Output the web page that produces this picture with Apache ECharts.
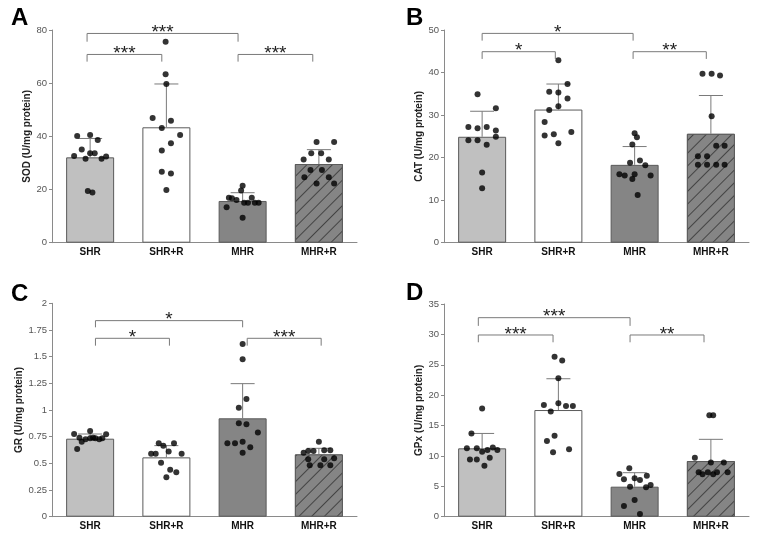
<!DOCTYPE html>
<html><head><meta charset="utf-8">
<script src="https://cdn.jsdelivr.net/npm/echarts@6/dist/echarts.min.js"></script>
<style>html,body{margin:0;padding:0;background:#fff}#c{width:761px;height:543px}</style>
</head><body><div id="c"></div>
<script>
// ---------- data ----------
const categories = ['SHR', 'SHR+R', 'MHR', 'MHR+R'];

// Panel A: SOD
const sodMean = [32.1, 43.4, 15.7, 29.6];
const sodSD = [7.1, 16.3, 3.1, 5.4];
const sodPoints = [
  [40.1, 40.5, 35.1, 38.6, 32.6, 31.6, 33.6, 33.6, 31.6, 32.4, 19.4, 18.9],
  [75.6, 63.4, 59.7, 46.9, 45.9, 43.1, 40.5, 37.4, 34.7, 26.7, 26.0, 19.8],
  [21.4, 19.6, 16.9, 16.7, 16.1, 16.9, 15.0, 15.0, 15.0, 15.0, 13.3, 9.4],
  [37.9, 37.9, 33.6, 33.6, 31.3, 31.3, 27.3, 27.3, 24.6, 24.6, 22.3, 22.3]
];
const sodJitter = [
  [-0.17, 0.00, -0.11, 0.10, -0.21, -0.06, 0.00, 0.06, 0.15, 0.21, -0.03, 0.03],
  [-0.01, -0.01, 0.00, -0.18, 0.06, -0.06, 0.18, 0.06, -0.06, -0.06, 0.06, 0.00],
  [0.00, -0.02, -0.18, -0.14, -0.08, 0.12, 0.02, 0.07, 0.16, 0.21, -0.21, 0.00],
  [-0.03, 0.20, -0.10, 0.03, -0.20, 0.13, -0.11, 0.04, -0.19, 0.13, -0.03, 0.20]
];
const sodBrackets = [[-0.04, 1.94, 78.7, 75.6], [-0.04, 0.94, 70.8, 68.1], [1.94, 2.92, 70.8, 68.1]];
const sodStars = ['***', '***', '***'];

// Panel B: CAT
const catMean = [24.9, 31.3, 18.3, 25.6];
const catSD = [6.0, 6.0, 4.3, 9.0];
const catPoints = [
  [34.9, 31.6, 27.2, 26.9, 27.2, 26.4, 24.1, 24.1, 24.9, 23.0, 16.5, 12.8],
  [42.9, 35.5, 35.3, 37.3, 33.9, 32.1, 31.2, 28.4, 25.2, 25.5, 26.0, 23.4],
  [25.7, 24.8, 23.1, 18.8, 19.3, 18.2, 16.1, 15.8, 16.1, 15.8, 15.0, 11.2],
  [39.7, 39.7, 39.3, 29.7, 20.3, 20.3, 22.8, 22.8, 18.3, 18.3, 18.3, 18.3]
];
const catJitter = [
  [-0.06, 0.18, -0.18, -0.06, 0.06, 0.18, -0.18, -0.06, 0.18, 0.06, 0.00, 0.00],
  [0.00, -0.12, 0.00, 0.12, 0.12, 0.00, -0.12, -0.18, -0.18, -0.06, 0.17, 0.00],
  [0.00, 0.03, -0.03, -0.06, 0.07, 0.14, -0.20, -0.13, 0.00, 0.21, -0.03, 0.04],
  [-0.11, 0.01, 0.12, 0.01, -0.17, -0.05, 0.07, 0.18, -0.17, -0.05, 0.07, 0.18]
];
const catBrackets = [[0, 1.98, 49.2, 47.5], [0, 0.96, 44.9, 43.2], [1.98, 2.94, 44.9, 43.2]];
const catStars = ['*', '*', '**'];

// Panel C: GR
const grMean = [0.731, 0.556, 0.922, 0.584];
const grSD = [0.044, 0.110, 0.325, 0.057];
const grPoints = [
  [0.775, 0.803, 0.772, 0.741, 0.726, 0.735, 0.741, 0.735, 0.726, 0.735, 0.703, 0.635],
  [0.688, 0.666, 0.688, 0.610, 0.590, 0.590, 0.590, 0.506, 0.440, 0.416, 0.369],
  [1.619, 1.475, 1.103, 1.022, 0.875, 0.866, 0.788, 0.688, 0.688, 0.703, 0.650, 0.600],
  [0.703, 0.600, 0.616, 0.616, 0.622, 0.622, 0.538, 0.538, 0.547, 0.482, 0.482, 0.482]
];
const grJitter = [
  [-0.21, 0.00, 0.21, -0.14, -0.06, 0.00, 0.04, 0.07, 0.12, 0.16, -0.11, -0.17],
  [-0.10, -0.04, 0.10, 0.03, -0.20, -0.14, 0.20, -0.07, 0.05, 0.13, 0.00],
  [0.00, 0.00, 0.05, -0.05, -0.05, 0.05, 0.20, -0.20, -0.10, 0.00, 0.10, 0.00],
  [0.00, -0.20, -0.14, -0.07, 0.07, 0.15, -0.14, 0.07, 0.20, -0.12, 0.02, 0.15]
];
const grBrackets = [[0.07, 2.0, 1.8375, 1.775], [0.07, 1.04, 1.672, 1.603], [2.06, 3.03, 1.672, 1.603]];
const grStars = ['*', '*', '***'];

// Panel D: GPx
const gpxMean = [11.25, 17.55, 4.94, 9.16];
const gpxSD = [2.45, 5.15, 2.30, 3.57];
const gpxPoints = [
  [17.8, 13.7, 11.25, 11.25, 11.4, 10.97, 10.7, 10.97, 9.43, 9.43, 9.7, 8.4],
  [26.3, 25.7, 22.8, 18.65, 18.4, 18.2, 18.2, 17.3, 13.3, 12.45, 10.6, 11.08],
  [7.96, 7.03, 6.75, 6.15, 6.32, 6.04, 4.94, 4.84, 5.22, 2.75, 1.76, 0.44],
  [16.7, 16.7, 9.7, 8.9, 8.9, 7.3, 6.97, 7.3, 6.97, 7.3, 7.3]
];
const gpxJitter = [
  [0.00, -0.14, -0.20, -0.07, 0.14, 0.20, 0.00, 0.07, -0.16, -0.07, 0.10, 0.03],
  [-0.05, 0.05, 0.00, 0.00, -0.19, 0.10, 0.19, -0.10, -0.05, -0.15, -0.07, 0.14],
  [-0.07, -0.20, 0.16, -0.14, 0.00, 0.07, -0.06, 0.15, 0.21, 0.00, -0.14, 0.07],
  [-0.02, 0.03, -0.21, 0.00, 0.17, -0.16, -0.11, -0.04, 0.03, 0.08, 0.22]
];
const gpxBrackets = [[-0.05, 1.94, 32.75, 31.4], [-0.05, 0.93, 29.9, 28.7], [1.94, 2.91, 29.9, 28.7]];
const gpxStars = ['***', '***', '**'];

const panels = [
  {letter: 'A', name: 'SOD (U/mg protein)', mean: sodMean, sd: sodSD, pts: sodPoints, jit: sodJitter, br: sodBrackets, stars: sodStars, min: 0, max: 80, interval: 20},
  {letter: 'B', name: 'CAT (U/mg protein)', mean: catMean, sd: catSD, pts: catPoints, jit: catJitter, br: catBrackets, stars: catStars, min: 0, max: 50, interval: 10},
  {letter: 'C', name: 'GR (U/mg protein)', mean: grMean, sd: grSD, pts: grPoints, jit: grJitter, br: grBrackets, stars: grStars, min: 0, max: 2, interval: 0.25},
  {letter: 'D', name: 'GPx (U/mg protein)', mean: gpxMean, sd: gpxSD, pts: gpxPoints, jit: gpxJitter, br: gpxBrackets, stars: gpxStars, min: 0, max: 35, interval: 5}
];

// ---------- layout / style ----------
const FONT = 'Liberation Sans, Arial, sans-serif';
const grids = [
  {left: 52, width: 305, top: 30, height: 212.7},
  {left: 444, width: 305, top: 30, height: 212.7},
  {left: 52, width: 305, top: 303.3, height: 213.4},
  {left: 444, width: 305, top: 304, height: 212.7}
];
const letterPos = [[11, 6], [406, 6], [11, 282], [406, 281]];
const barColors = ['#c0c0c0', '#ffffff', '#858585', '#858585'];
const hatch = {symbol: 'rect', symbolSize: 1, dashArrayX: [1, 0], dashArrayY: [1, 8], rotation: -Math.PI / 4, color: 'rgba(40,40,40,0.7)', backgroundColor: '#858585'};

const option = {
  animation: false,
  backgroundColor: '#fff',
  grid: grids.map(g => Object.assign({containLabel: false}, g)),
  xAxis: [], yAxis: [], series: [],
  graphic: panels.map((p, i) => ({type: 'text', left: letterPos[i][0], top: letterPos[i][1],
    style: {text: p.letter, font: 'bold 24px ' + FONT, fill: '#000'}}))
};

panels.forEach((p, i) => {
  const xc = option.xAxis.length;
  option.xAxis.push({type: 'category', gridIndex: i, data: categories,
    axisLine: {onZero: false, lineStyle: {color: '#8a8a8a', width: 1}}, axisTick: {show: false},
    axisLabel: {color: '#111', fontWeight: 'bold', fontSize: 10, fontFamily: FONT, margin: 5, interval: 0}});
  const xv = option.xAxis.length;
  option.xAxis.push({type: 'value', gridIndex: i, min: -0.5, max: 3.5, show: false});
  const yi = option.yAxis.length;
  option.yAxis.push({type: 'value', gridIndex: i, min: p.min, max: p.max, interval: p.interval,
    name: p.name, nameLocation: 'middle', nameGap: 19,
    nameTextStyle: {color: '#222', fontWeight: 'bold', fontSize: 10, fontFamily: FONT},
    axisLine: {show: true, onZero: false, lineStyle: {color: '#8a8a8a'}},
    axisTick: {show: true, length: 3, lineStyle: {color: '#8a8a8a'}},
    splitLine: {show: false},
    axisLabel: {color: '#555', fontSize: 9.5, fontFamily: FONT, margin: 5}});

  // bars
  option.series.push({type: 'bar', xAxisIndex: xc, yAxisIndex: yi, barWidth: 48,
    data: p.mean.map((v, k) => ({value: v, itemStyle: Object.assign({color: barColors[k], borderColor: '#5a5a5a', borderWidth: 1},
      k === 3 ? {decal: hatch} : {})})),
    z: 2});

  // error bars (upper only)
  option.series.push({type: 'custom', xAxisIndex: xv, yAxisIndex: yi, z: 3,
    data: p.mean.map((m, k) => [k, m, m + p.sd[k]]),
    encode: {x: 0, y: [1, 2]},
    renderItem: (params, api) => {
      const b = api.coord([api.value(0), api.value(1)]);
      const t = api.coord([api.value(0), api.value(2)]);
      const half = 12;
      return {type: 'group', children: [
        {type: 'line', shape: {x1: b[0], y1: b[1], x2: t[0], y2: t[1]}, style: {stroke: '#7a7a7a', lineWidth: 1}},
        {type: 'line', shape: {x1: t[0] - half, y1: t[1], x2: t[0] + half, y2: t[1]}, style: {stroke: '#7a7a7a', lineWidth: 1}}
      ]};
    }});

  // points
  const scatterData = [];
  p.pts.forEach((arr, g) => arr.forEach((v, k) => scatterData.push([g + p.jit[g][k], v])));
  option.series.push({type: 'scatter', xAxisIndex: xv, yAxisIndex: yi, symbolSize: 6, z: 5,
    itemStyle: {color: '#000'}, data: scatterData});

  // significance brackets
  option.series.push({type: 'custom', xAxisIndex: xv, yAxisIndex: yi, z: 4,
    data: p.br, encode: {x: [0, 1], y: [2, 3]},
    renderItem: (params, api) => {
      const x1 = api.value(0), x2 = api.value(1), yl = api.value(2), yd = api.value(3);
      const a = api.coord([x1, yd]), b = api.coord([x1, yl]), c = api.coord([x2, yl]), d = api.coord([x2, yd]);
      return {type: 'group', children: [
        {type: 'polyline', shape: {points: [a, b, c, d]}, style: {stroke: '#7a7a7a', lineWidth: 1, fill: null}},
        {type: 'text', style: {text: p.stars[params.dataIndex], x: (b[0] + c[0]) / 2, y: b[1] + 9,
          align: 'center', verticalAlign: 'bottom', font: '19px ' + FONT, fill: '#222'}}
      ]};
    }});
});

const chart = echarts.init(document.getElementById('c'), null, {renderer: 'canvas'});
chart.setOption(option);
</script>
</body></html>
